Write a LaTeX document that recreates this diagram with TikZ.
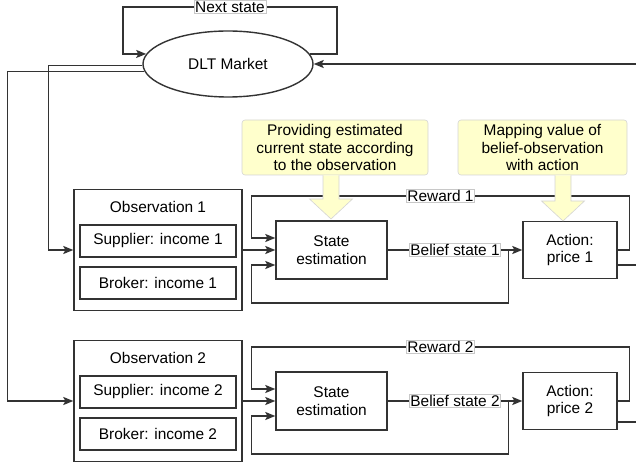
\documentclass[tikz,border=0pt]{standalone}
\usepackage{fontspec}
\setmainfont{Liberation Sans}
\usetikzlibrary{shapes.geometric,arrows.meta,calc}

\definecolor{linegrey}{HTML}{333333}
\definecolor{lblgrey}{HTML}{C8C8C8}
\definecolor{notegrey}{HTML}{D4D4D4}
\definecolor{noteyellow}{HTML}{FFFFCC}

\tikzset{
  line/.style={draw=linegrey, line width=1.4bp},
  arrow/.style={line, -{Stealth[length=10bp,width=8bp,inset=2bp]}},
  box/.style={draw=linegrey, line width=1.4bp, fill=white, align=center, inner sep=0pt},
  lbl/.style={fill=white, draw=lblgrey, line width=0.5bp, inner sep=1bp},
  note/.style={draw=notegrey, fill=noteyellow, rounded corners=3bp, line width=0.6bp, align=center, inner sep=0pt},
}

\begin{document}
\begin{tikzpicture}[x=1bp, y=-1bp, font=\fontsize{15.5}{17.5}\selectfont]
\useasboundingbox (0,0) rectangle (636,466);

% market and its loop
\node[box, ellipse, minimum width=170bp, minimum height=66bp] (market) at (228,64) {DLT Market};
\draw[arrow] (market.7) -| (337,7) -- node[lbl]{Next state} (123,7) |- (market.173);
\coordinate (mkin) at (636,64);
\draw[arrow] (mkin) -- (market.east);

% the two agents
\foreach \i/\y/\z in {1/250/15, 2/401/21} {
  \node[box, minimum width=168bp, minimum height=121bp] (obs\i) at (158,\y) {};
  \node (obst\i) at ($(obs\i.north)+(0,18)$) {Observation \i};
  \node[box, minimum width=156bp, minimum height=32bp] (sup\i) at ($(obs\i.center)+(0,-9)$) {Supplier: income \i};
  \node[box, minimum width=156bp, minimum height=32bp] (bro\i) at ($(obs\i.center)+(0,33)$) {Broker: income \i};
  \node[box, minimum width=111bp, minimum height=58bp] (est\i) at (331.5,\y) {State\\estimation};
  \node[box, minimum width=94bp, minimum height=57bp] (act\i) at (570,\y) {Action:\\price \i};
  \draw[arrow] (obs\i.east) -- (est\i.west);
  \draw[arrow] (est\i.east) -- node[lbl]{Belief state \i} (act\i.west);
  \draw[arrow] (act\i.east) -| ($(act\i.east)+(12,-54)$) -- node[lbl]{Reward \i}
    ($(est\i.west)+(-24,-54)$) |- ($(est\i.west)+(0,-12)$);
  \coordinate (bel\i) at ($(act\i.west)+(-14,0)$);
  \draw[arrow] (bel\i) |- ($(est\i.west)+(-24,53)$) |- ($(est\i.west)+(0,15)$);
  \coordinate (out\i) at (636,\y+\z);
  \draw[line] ($(act\i.east)+(0,\z)$) -- (out\i);
}

% market to observations
\draw[arrow] (market.181) -| ($(obs1.west)+(-25,0)$) -- (obs1.west);
\draw[arrow] (market.185) -| ($(obs2.west)+(-66,0)$) -- (obs2.west);

% notes
\node[note, minimum width=186bp, minimum height=55bp] (note1) at (335,147.5)
  {Providing estimated\\current state according\\to the observation};
\node[note, minimum width=169bp, minimum height=55bp] (note2) at (542.5,147.5)
  {Mapping value of\\belief-observation\\with action};
\foreach \x/\t in {331/219, 563/221} {
  \filldraw[fill=noteyellow, draw=notegrey, line width=0.6bp]
    (\x-8,175.5) -- (\x-8,\t-20) -- (\x-21.5,\t-20) -- (\x,\t) -- (\x+21.5,\t-20) -- (\x+8,\t-20) -- (\x+8,175.5);
}
\end{tikzpicture}
\end{document}
